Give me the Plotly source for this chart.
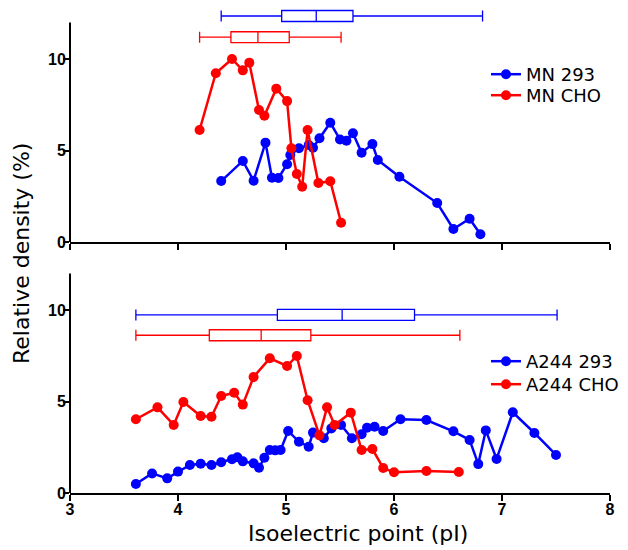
import plotly.graph_objects as go

# ---- Top panel: MN ----
mn293_x = [4.40, 4.60, 4.70, 4.81, 4.87, 4.93, 5.01, 5.04, 5.12, 5.21, 5.25, 5.31, 5.41, 5.50, 5.56, 5.62, 5.70, 5.80, 5.85, 6.05, 6.40, 6.55, 6.70, 6.80]
mn293_y = [3.33, 4.43, 3.35, 5.43, 3.51, 3.50, 4.25, 4.75, 5.12, 5.30, 5.15, 5.67, 6.52, 5.60, 5.53, 5.94, 4.88, 5.35, 4.48, 3.57, 2.13, 0.71, 1.27, 0.42]
mncho_x = [4.20, 4.35, 4.50, 4.60, 4.66, 4.75, 4.80, 4.91, 5.01, 5.05, 5.10, 5.15, 5.20, 5.30, 5.41, 5.51]
mncho_y = [6.12, 9.22, 10.0, 9.38, 9.80, 7.21, 6.90, 8.38, 7.70, 5.12, 3.72, 3.02, 6.12, 3.22, 3.32, 1.05]

# ---- Bottom panel: A244 ----
a293_x = [3.61, 3.76, 3.90, 4.00, 4.11, 4.21, 4.31, 4.40, 4.50, 4.55, 4.60, 4.70, 4.75, 4.80, 4.85, 4.90, 4.95, 5.02, 5.12, 5.21, 5.25, 5.35, 5.42, 5.51, 5.61, 5.70, 5.75, 5.82, 5.90, 6.06, 6.30, 6.55, 6.70, 6.78, 6.85, 6.95, 7.10, 7.30, 7.50]
a293_y = [0.49, 1.07, 0.80, 1.17, 1.53, 1.60, 1.53, 1.68, 1.84, 1.95, 1.73, 1.62, 1.38, 1.93, 2.35, 2.33, 2.35, 3.39, 2.80, 2.53, 3.30, 2.99, 3.53, 3.72, 2.99, 3.21, 3.57, 3.62, 3.39, 4.03, 3.99, 3.37, 2.90, 1.58, 3.42, 1.86, 4.41, 3.28, 2.08]
acho_x = [3.61, 3.81, 3.96, 4.05, 4.21, 4.31, 4.40, 4.52, 4.60, 4.70, 4.85, 5.01, 5.10, 5.20, 5.31, 5.38, 5.45, 5.60, 5.70, 5.80, 5.90, 6.00, 6.30, 6.60]
acho_y = [4.03, 4.68, 3.72, 4.97, 4.21, 4.17, 5.30, 5.48, 4.83, 6.34, 7.36, 6.94, 7.49, 5.07, 3.15, 4.68, 3.72, 4.39, 2.35, 2.40, 1.37, 1.13, 1.20, 1.15]

# ---- Box summaries: [lowerfence, q1, median, q3, upperfence] ----
box_mn293 = [4.40, 4.96, 5.28, 5.62, 6.82]
box_mncho = [4.20, 4.49, 4.74, 5.03, 5.51]
box_a293 = [3.61, 4.92, 5.52, 6.19, 7.51]
box_acho = [3.61, 4.29, 4.77, 5.23, 6.61]
box_pos_top = [12.35, 11.19]
box_pos_bot = [9.73, 8.62]

x_ticks = [3, 4, 5, 6, 7, 8]
y_ticks = [0, 5, 10]

BLUE = "#0000FF"
RED = "#FF0000"

fig = go.Figure()

def add_line(x, y, color, name, xa, ya, legend):
    fig.add_trace(go.Scatter(
        x=x, y=y, mode="lines+markers", name=name,
        line=dict(color=color, width=2.5),
        marker=dict(color=color, size=10),
        xaxis=xa, yaxis=ya, legend=legend, cliponaxis=False))

def add_box(stats, pos, color, xa, ya):
    fig.add_trace(go.Box(
        y=[pos], lowerfence=[stats[0]], q1=[stats[1]], median=[stats[2]],
        q3=[stats[3]], upperfence=[stats[4]], orientation="h",
        width=0.6, whiskerwidth=1, line=dict(color=color, width=1.3),
        fillcolor="rgba(255,255,255,0)", showlegend=False,
        xaxis=xa, yaxis=ya, boxpoints=False))

add_line(mn293_x, mn293_y, BLUE, "MN 293", "x", "y", "legend")
add_line(mncho_x, mncho_y, RED, "MN CHO", "x", "y", "legend2")
add_box(box_mn293, box_pos_top[0], BLUE, "x", "y")
add_box(box_mncho, box_pos_top[1], RED, "x", "y")

add_line(a293_x, a293_y, BLUE, "A244 293", "x2", "y2", "legend3")
add_line(acho_x, acho_y, RED, "A244 CHO", "x2", "y2", "legend4")
add_box(box_a293, box_pos_bot[0], BLUE, "x2", "y2")
add_box(box_acho, box_pos_bot[1], RED, "x2", "y2")

tickfont = dict(family="Liberation Sans, Arial", size=16, color="black", weight="bold")
xcommon = dict(range=[3, 8], tickvals=x_ticks, showline=True, linecolor="black", linewidth=2,
               ticks="outside", ticklen=6, tickwidth=2, tickcolor="black",
               showgrid=False, zeroline=False, tickfont=tickfont, automargin=False,
               ticklabelstandoff=-5)
YMAX = (242 - 8) / 18.3
ycommon = dict(range=[0, YMAX], tickvals=y_ticks, showline=False,
               ticks="outside", ticklen=6, tickwidth=2, tickcolor="black",
               showgrid=False, zeroline=False, tickfont=tickfont, automargin=False,
               ticklabelstandoff=-6)

# page body has an 8px margin: figure sits at (8,8) in the 628x550 window
PH = 485.0  # plot area height (screen 8..493)
top_dom = [(493 - 242) / PH, 1.0]
bot_dom = [0.0, (493 - 259) / PH]

legfont = dict(family="DejaVu Sans", size=18, color="black")
LX = (486 - 70) / 540

def leg(top_px):
    return dict(x=LX, y=(493 - top_px) / PH, xanchor="left", yanchor="top",
                font=legfont, bgcolor="rgba(0,0,0,0)")

fig.update_layout(
    width=620, height=542,
    margin=dict(l=62, r=18, t=0, b=57, autoexpand=False),
    plot_bgcolor="white", paper_bgcolor="white",
    boxmode="overlay",
    xaxis=dict(**xcommon, anchor="y", showticklabels=False),
    yaxis=dict(**ycommon, domain=top_dom, anchor="x"),
    xaxis2=dict(**xcommon, anchor="y2"),
    yaxis2=dict(**ycommon, domain=bot_dom, anchor="x2"),
    legend=leg(56), legend2=leg(77), legend3=leg(343), legend4=leg(366),
    shapes=[
        dict(type="line", xref="x domain", yref="y", x0=0, x1=0, y0=0, y1=12,
             line=dict(color="black", width=2)),
        dict(type="line", xref="x2 domain", yref="y2", x0=0, x1=0, y0=0, y1=12,
             line=dict(color="black", width=2)),
    ],
    annotations=[
        dict(text="Relative density (%)", xref="paper", yref="paper",
             x=(21 - 70) / 540, y=(493 - 254) / PH, textangle=-90,
             xanchor="center", yanchor="middle", showarrow=False,
             font=dict(family="DejaVu Sans", size=22, color="black")),
        dict(text="Isoelectric point (pI)", xref="paper", yref="paper",
             x=(358 - 70) / 540, y=(493 - 533) / PH,
             xanchor="center", yanchor="middle", showarrow=False,
             font=dict(family="DejaVu Sans", size=22, color="black")),
    ],
    showlegend=True,
)

fig.write_html("out.html")
